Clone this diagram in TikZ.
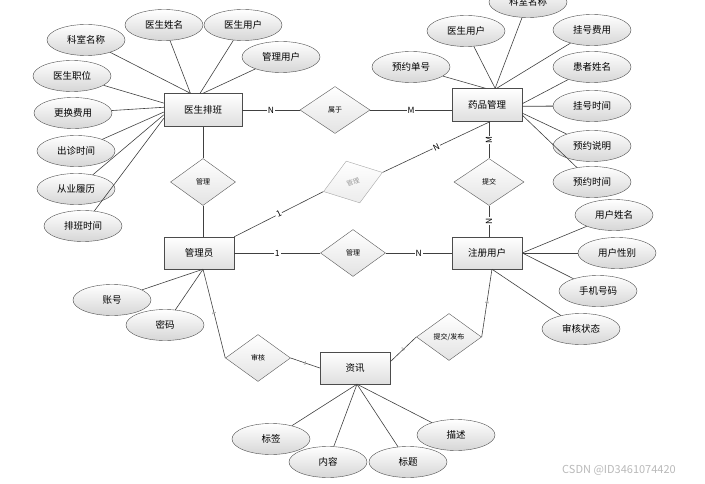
\documentclass[tikz,border=0pt]{standalone}
\usepackage{fontspec}
\setmainfont{Noto Sans CJK SC}
\usepackage{tikz}
\usetikzlibrary{shapes.geometric}

\begin{document}
\begin{tikzpicture}[x=1pt, y=-1pt,
   ent/.style={draw=black!70, rectangle, top color=white, bottom color=gray!25, minimum width=70pt, minimum height=32pt, inner sep=0pt, font=\fontsize{9.5}{11}\selectfont},
   attr/.style={draw=black!70, ellipse, top color=white, bottom color=gray!32, minimum width=78pt, minimum height=31pt, inner sep=0pt, font=\fontsize{9.5}{11}\selectfont},
   rel/.style={draw=black!65, diamond, top color=white, bottom color=gray!22, minimum width=65pt, minimum height=47pt, inner sep=0pt, font=\fontsize{7}{8}\selectfont},
   lbl/.style={fill=white, inner sep=1pt, font=\fontsize{8.5}{9}\selectfont},
   tick/.style={inner sep=0pt, text=black!50, font=\fontsize{5}{5}\selectfont, sloped},
   line/.style={draw=black!75, semithick}]

   \useasboundingbox (0,0) rectangle (705,484);

   % entities
   \node[ent, minimum width=78pt, minimum height=33pt] (ysb) at (203,110) {医生排班};
   \node[ent, minimum height=33pt] (ypgl) at (487,105) {药品管理};
   \node[ent] (gly) at (199,253) {管理员};
   \node[ent] (zc) at (487,253) {注册用户};
   \node[ent] (zx) at (355,368) {资讯};

   % relations
   \node[rel, minimum width=70pt] (sy) at (335,110) {属于};
   \node[rel] (gl1) at (203,182) {管理};
   \node[rel] (gl2) at (353,253) {管理};
   \node[rel, minimum width=70pt] (tj) at (489,182) {提交};
   \node[rel, rotate=18, draw=gray!70, bottom color=gray!15, text=gray!80, minimum width=62pt, minimum height=44pt, font=\fontsize{6.5}{7}\selectfont] (gl3) at (353,182) {管理};
   \node[rel] (sh) at (258,358) {审核};
   \node[rel] (fb) at (449,337) {提交/发布};

   % attributes of ysb
   \node[attr] (a1) at (86,40) {科室名称};
   \node[attr] (a2) at (164,25) {医生姓名};
   \node[attr] (a3) at (243,25) {医生用户};
   \node[attr] (a4) at (281,57) {管理用户};
   \node[attr] (a5) at (72,76) {医生职位};
   \node[attr] (a6) at (73,113) {更换费用};
   \node[attr] (a7) at (76,151) {出诊时间};
   \node[attr] (a8) at (76,189) {从业履历};
   \node[attr] (a9) at (83,226) {排班时间};
   \draw[line] (a1) -- (ysb.127);
   \draw[line] (a2) -- (ysb.127);
   \draw[line] (a3) -- (ysb.100);
   \draw[line] (a4) -- (ysb.90);
   \draw[line] (a5) -- (ysb.170);
   \draw[line] (a6) -- (ysb.176);
   \draw[line] (a7) -- (ysb.183);
   \draw[line] (a8) -- (ysb.187);
   \draw[line] (a9) -- (ysb.192);

   % attributes of ypgl
   \node[attr] (b1) at (528,2) {科室名称};
   \node[attr] (b2) at (466,31) {医生用户};
   \node[attr] (b3) at (592,30) {挂号费用};
   \node[attr] (b4) at (411,67) {预约单号};
   \node[attr] (b5) at (592,67) {患者姓名};
   \node[attr] (b6) at (592,106) {挂号时间};
   \node[attr] (b7) at (592,146) {预约说明};
   \node[attr] (b8) at (592,182) {预约时间};
   \draw[line] (b1) -- (ypgl.64);
   \draw[line] (b2) -- (ypgl.64);
   \draw[line] (b3) -- (ypgl.60);
   \draw[line] (b4) -- (ypgl.95);
   \draw[line] (b5) -- (ypgl.2);
   \draw[line, thick] (b6) -- (ypgl.358);
   \draw[line] (b7) -- (ypgl.347);
   \draw[line] (b8) -- (ypgl.344);

   % attributes of zc
   \node[attr] (c1) at (614,215) {用户姓名};
   \node[attr] (c2) at (617,253) {用户性别};
   \node[attr] (c3) at (598,291) {手机号码};
   \node[attr] (c4) at (581,329) {审核状态};
   \draw[line] (c1) -- (zc.0);
   \draw[line] (c2) -- (zc.0);
   \draw[line] (c3) -- (zc.0);
   \draw[line] (c4) -- (zc.287);

   % attributes of gly
   \node[attr] (d1) at (112,300) {账号};
   \node[attr] (d2) at (165,325) {密码};
   \draw[line] (d1) -- (gly.284);
   \draw[line] (d2) -- (gly.284);

   % attributes of zx
   \node[attr] (e1) at (271,439) {标签};
   \node[attr] (e2) at (328,462) {内容};
   \node[attr] (e3) at (408,462) {标题};
   \node[attr] (e4) at (456,435) {描述};
   \draw[line] (e1) -- (zx.277);
   \draw[line] (e2) -- (zx.277);
   \draw[line] (e3) -- (zx.277);
   \draw[line] (e4) -- (zx.277);

   % relations
   \draw[line] (ysb.east) -- node[lbl] {N} (sy.west);
   \draw[line] (sy.east) -- node[lbl] {M} (ypgl.west |- sy.east);
   \draw[line] (ysb.south -| gl1.north) -- (gl1.north);
   \draw[line] (gl1.south) -- (gly.north -| gl1.south);
   \draw[line] (gly.east) -- node[lbl] {1} (gl2.west);
   \draw[line] (gl2.east) -- node[lbl] {N} (zc.west);
   \draw[line] (ypgl.south -| tj.north) -- node[lbl, rotate=90] {M} (tj.north);
   \draw[line] (tj.south) -- node[lbl, rotate=90] {N} (zc.north -| tj.south);
   \draw[line] (gly.north east) -- node[lbl, sloped] {1} (gl3.west);
   \draw[line] (gl3.east) -- node[lbl, sloped] {N} (ypgl.280);
   \draw[line] (gly.284) -- node[tick] {1} (sh.west);
   \draw[line] (sh.east) -- node[tick] {1} (zx.west);
   \draw[line] (zx.10) -- node[tick] {1} (fb.west);
   \draw[line] (fb.east) -- node[tick] {1} (zc.287);

   \node[text=gray!55, font=\fontsize{11}{12}\selectfont] (wm) at (619,470) {CSDN @ID3461074420};

\end{tikzpicture}
\end{document}
